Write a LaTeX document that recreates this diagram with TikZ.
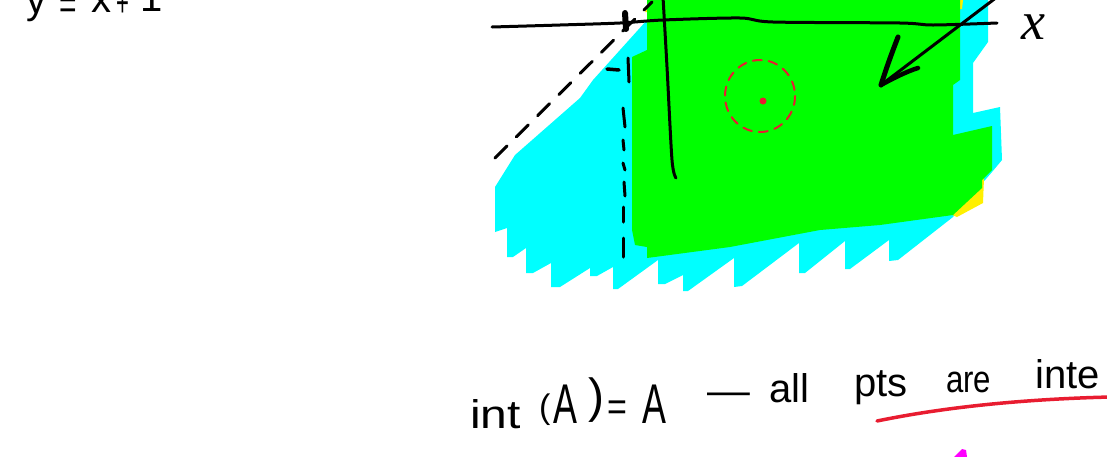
\documentclass[tikz,border=0pt]{standalone}
\usepackage{fontspec}
\setmainfont{Liberation Sans}
\newfontfamily\serifit{Liberation Serif}
\usepackage{graphicx}
\definecolor{cyanfill}{RGB}{0,255,255}
\definecolor{greenfill}{RGB}{0,255,0}
\definecolor{yellowfill}{RGB}{255,240,0}
\definecolor{penred}{RGB}{232,28,48}
\definecolor{penmag}{RGB}{255,0,255}
\tikzset{
  pen/.style={line width=3pt, line cap=round, line join=round, black},
  dashpen/.style={pen, dash pattern=on 17pt off 13pt},
  reddash/.style={line width=2pt, line cap=round, penred, dash pattern=on 9pt off 7pt},
  hand/.style={inner sep=0pt, anchor=base west, font=\fontsize{40}{48}\selectfont},
  handcap/.style={inner sep=0pt, anchor=base west, font=\fontsize{56}{60}\selectfont},
}
\begin{document}
\begin{tikzpicture}[x=1pt,y=-1pt]
\useasboundingbox (0,0) rectangle (1107,456);
\clip (0,0) rectangle (1107,456);
% cyan region
\fill[cyanfill] (655,0) -- (988,0) -- (988,42) -- (973,63) -- (973,113) -- (1000,107) -- (1002,160) -- (992,172)
  -- (953,217) -- (898,260) -- (889,261) -- (889,240) -- (850,269) -- (845,269) -- (845,241)
  -- (805,273) -- (799,273) -- (799,243) -- (742,286) -- (734,287) -- (734,258) -- (688,291) -- (683,291)
  -- (683,275) -- (665,284) -- (658,284) -- (658,260) -- (618,289) -- (613,289) -- (613,267)
  -- (597,276) -- (590,276) -- (590,268) -- (560,287) -- (551,287) -- (551,263) -- (533,273) -- (526,273)
  -- (526,248) -- (513,257) -- (507,257) -- (507,228) -- (495,232) -- (495,187) -- (515,155)
  -- (580,98) -- (593,80) -- (647,20) -- cycle;
% yellow patches
\fill[yellowfill] (645,12) -- (652,0) -- (664,0) -- (650,12) -- cycle;
\fill[yellowfill] (959,0) -- (963,0) -- (962,9) -- (959,9) -- cycle;
\fill[yellowfill] (975,178) -- (984,178) -- (983,203) -- (957,217) -- (950,214) -- cycle;
% green region
\fill[greenfill] (647,0) -- (960,0) -- (960,80) -- (953,85) -- (953,135) -- (992,126) -- (992,170)
  -- (982,180) -- (982,188) -- (953,215) -- (880,225) -- (820,230) -- (730,247) -- (647,258)
  -- (647,247) -- (635,245) -- (632,230) -- (632,57) -- (647,50) -- cycle;
% dashed diagonal y = x+1
\coordinate (d1) at (495,158);
\coordinate (d2) at (652,2);
\draw[dashpen] (d1) -- (d2);
% x axis
\draw[pen] plot[smooth] coordinates {(492,27) (560,25) (620,23) (663,20) (740,18) (773,22) (900,23) (933,25) (997,23)};
% y axis
\draw[pen] plot[smooth] coordinates {(663,-3) (667,67) (672,160) (676,178)};
% tick at -1 on x axis
\draw[pen, line width=6pt] (625,13) -- (626,29);
% -1 label and vertical dashed line
\draw[pen, line width=3.5pt] (607,69) -- (619,70);
\draw[pen] (628,58) -- (629,82);
\draw[pen] (623,108) -- (625,127);
\draw[pen] (623,140) -- (624,150);
\draw[pen] (623,163) -- (625,170);
\draw[pen] (624,182) -- (625,196);
\draw[pen] (623,207) -- (623,222);
\draw[pen] (623,238) -- (623,257);
% x label
\node[inner sep=0pt, anchor=base west, font=\fontsize{54}{54}\serifit\itshape] (xlab) at (1021,39) {x};
% arrow
\coordinate (a1) at (997,-3);
\coordinate (a2) at (881,85);
\draw[pen] (a1) -- (a2);
\draw[pen, line width=5pt] (898,37) .. controls (891,55) and (885,72) .. (a2);
\draw[pen, line width=4.5pt] (918,68) .. controls (905,72) and (890,80) .. (a2);
% red dashed circle and point
\draw[reddash] (760,96) ellipse [x radius=35, y radius=36];
\fill[penred] (763,101) circle [radius=3.5];
% top-left text y = x+1
\node[hand] (ty) at (26,13) {y};
\node[hand] (teq) at (59,18) {\scalebox{0.75}[1]{=}};
\node[hand] (tx) at (91,12) {x};
\node[hand] (tplus) at (116,16) {\scalebox{0.55}[1]{+}};
\node[hand] (tone) at (140,11) {1};
% bottom text
\node[hand] (int) at (470,428) {\scalebox{1.2}[1]{int}};
\node[hand, font=\fontsize{34}{34}\selectfont] (lp) at (539,418) {(};
\node[handcap] (a1t) at (553,423) {\scalebox{0.64}[1]{A}};
\node[hand, font=\fontsize{48}{48}\selectfont] (rp) at (588,412) {)};
\node[hand] (eq) at (607,420) {\scalebox{0.85}[1]{=}};
\node[handcap] (a2t) at (642,423) {\scalebox{0.64}[1]{A}};
\node[hand] (dash) at (707,404) {\scalebox{1.07}[1]{—}};
\node[hand] (all) at (769,402) {all};
\node[hand] (pts) at (854,396) {pts};
\node[hand, font=\fontsize{38}{48}\selectfont] (are) at (946,392) {\scalebox{0.82}[1]{are}};
\node[hand] (inte) at (1035,388) {inte};
% red underline
\coordinate (u1) at (877,421);
\coordinate (u2) at (1110,397);
\draw[line width=3.5pt, penred, line cap=round] (u1) .. controls (950,406) and (1030,399) .. (u2);
% magenta mark
\fill[penmag] (954,457) -- (962,449) -- (966,450) -- (967,457) -- cycle;
\end{tikzpicture}
\end{document}
